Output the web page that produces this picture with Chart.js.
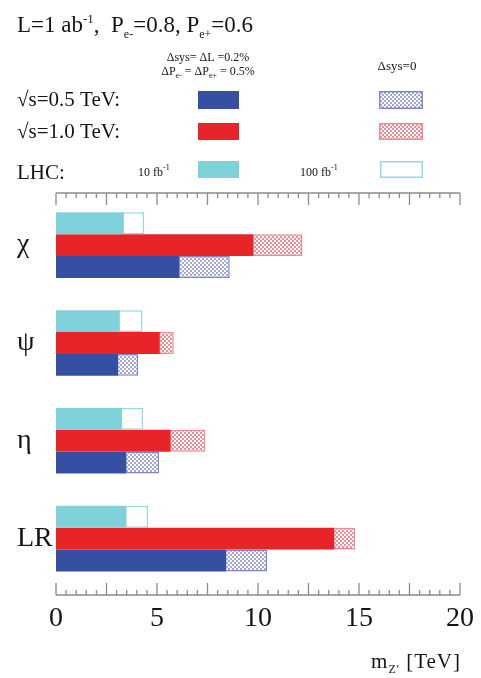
<!DOCTYPE html>
<html>
<head>
<meta charset="utf-8">
<script src="https://cdn.jsdelivr.net/npm/chart.js@4.4.1/dist/chart.umd.min.js"></script>
<style>
  html, body { margin: 0; padding: 0; background: #fff; }
  #wrap { width: 481px; height: 678px; position: relative; }
</style>
</head>
<body>
<div id="wrap"><canvas id="c"></canvas></div>
<script>
// Z' models and reach limits on the Z' mass (TeV)
const models = ['χ', 'ψ', 'η', 'LR'];
const lhc10 = [3.36, 3.16, 3.27, 3.49];        // LHC, 10 fb^-1
const lhc100 = [4.36, 4.28, 4.31, 4.56];       // LHC, 100 fb^-1
const ilc1000Sys = [9.78, 5.14, 5.68, 13.78];  // √s = 1.0 TeV, with systematics
const ilc1000NoSys = [12.2, 5.83, 7.39, 14.81];// √s = 1.0 TeV, Δsys = 0
const ilc500Sys = [6.12, 3.08, 3.49, 8.43];    // √s = 0.5 TeV, with systematics
const ilc500NoSys = [8.6, 4.07, 5.1, 10.45];   // √s = 0.5 TeV, Δsys = 0
const xTickValues = [0, 5, 10, 15, 20];

const SERIF = '"Liberation Serif", "Times New Roman", serif';
const INK = '#151515';
const BLUE = '#3550a2';
const RED = '#e82428';
const CYAN = '#7fd2da';
const CYAN_EDGE = '#92dbe2';
const BLUE_EDGE = '#8385cc';
const RED_EDGE = '#f08a90';

// fine checkered fill used for the "Δsys = 0" extensions
function makeChecker(color) {
  const tile = document.createElement('canvas');
  tile.width = 4; tile.height = 4;
  const g = tile.getContext('2d');
  g.fillStyle = '#fff'; g.fillRect(0, 0, 4, 4);
  g.fillStyle = color;
  g.fillRect(0, 0, 2, 2);
  g.fillRect(2, 2, 2, 2);
  return g.createPattern(tile, 'repeat');
}
const BLUE_HATCH = makeChecker('#a4a7dc');
const RED_HATCH = makeChecker('#f08d94');

const from0 = vals => vals.map((v, i) => ({ y: i, x: [0, v] }));
const between = (lo, hi) => lo.map((v, i) => ({ y: i, x: [v, hi[i]] }));

const datasets = [
  { stack: 'lhc', data: from0(lhc10), backgroundColor: CYAN, borderWidth: 0 },
  { stack: 'lhc', data: between(lhc10, lhc100), backgroundColor: '#fff',
    borderColor: CYAN_EDGE, borderWidth: 1.5, borderSkipped: 'start' },
  { stack: 'e1000', data: from0(ilc1000Sys), backgroundColor: RED, borderWidth: 0 },
  { stack: 'e1000', data: between(ilc1000Sys, ilc1000NoSys), backgroundColor: RED_HATCH,
    borderColor: RED_EDGE, borderWidth: 1.5, borderSkipped: 'start' },
  { stack: 'e500', data: from0(ilc500Sys), backgroundColor: BLUE, borderWidth: 0 },
  { stack: 'e500', data: between(ilc500Sys, ilc500NoSys), backgroundColor: BLUE_HATCH,
    borderColor: BLUE_EDGE, borderWidth: 1.5, borderSkipped: 'start' }
];

// text with sub/superscript pieces: [text, fontSize, baselineShift]
function drawRich(ctx, x, y, parts, align) {
  let w = 0;
  parts.forEach(p => { ctx.font = p[1] + 'px ' + SERIF; w += ctx.measureText(p[0]).width; });
  let cx = align === 'center' ? x - w / 2 : align === 'right' ? x - w : x;
  parts.forEach(p => {
    ctx.font = p[1] + 'px ' + SERIF;
    ctx.fillText(p[0], cx, y + (p[2] || 0));
    cx += ctx.measureText(p[0]).width;
  });
}

function legendBox(ctx, x, y, w, h, fill, edge) {
  ctx.fillStyle = fill;
  ctx.fillRect(x, y, w, h);
  if (edge) {
    ctx.strokeStyle = edge; ctx.lineWidth = 1.5;
    ctx.strokeRect(x + 0.75, y + 0.75, w - 1.5, h - 1.5);
  }
}

const annotations = {
  id: 'annotations',
  afterDraw(chart) {
    const { ctx } = chart;
    ctx.save();
    ctx.fillStyle = INK;
    ctx.textBaseline = 'alphabetic';
    ctx.textAlign = 'left';
    // heading
    drawRich(ctx, 17, 32, [['L=1 ab', 23], ['-1', 13, -9], [',  P', 23], ['e-', 12, 6],
      ['=0.8, P', 23], ['e+', 12, 6], ['=0.6', 23]], 'left');
    // legend column headers
    drawRich(ctx, 208, 61, [['Δsys= ΔL =0.2%', 12]], 'center');
    drawRich(ctx, 208, 75, [['ΔP', 12], ['e-', 8, 3], [' = ΔP', 12], ['e+', 8, 3], [' = 0.5%', 12]], 'center');
    drawRich(ctx, 397, 70, [['Δsys=0', 13]], 'center');
    // legend rows
    drawRich(ctx, 17, 106, [['√s=0.5 TeV:', 21]], 'left');
    drawRich(ctx, 17, 138, [['√s=1.0 TeV:', 21]], 'left');
    drawRich(ctx, 17, 179, [['LHC:', 21]], 'left');
    drawRich(ctx, 138, 176, [['10 fb', 12], ['-1', 8, -6]], 'left');
    drawRich(ctx, 300, 176, [['100 fb', 12], ['-1', 8, -6]], 'left');
    legendBox(ctx, 198, 91, 41, 18, BLUE);
    legendBox(ctx, 379, 91, 44, 18, BLUE_HATCH, BLUE_EDGE);
    legendBox(ctx, 198, 123, 41, 17, RED);
    legendBox(ctx, 379, 123, 44, 17, RED_HATCH, RED_EDGE);
    legendBox(ctx, 198, 161, 41, 17, CYAN);
    legendBox(ctx, 380, 161, 43, 17, '#fff', CYAN_EDGE);
    // axis title
    ctx.fillStyle = INK;
    ctx.letterSpacing = '1px';
    drawRich(ctx, 461, 668, [['m', 21], ['Z\'', 12, 5], [' [TeV]', 21]], 'right');
    ctx.restore();
  }
};

// ruler lines with ticks along the top and bottom of the plot
const frame = {
  id: 'frame',
  afterDraw(chart) {
    const { ctx, chartArea: a, scales: { x } } = chart;
    ctx.save();
    ctx.strokeStyle = '#8c8c8c';
    ctx.lineWidth = 1.3;
    const x0 = x.getPixelForValue(x.min), x1 = x.getPixelForValue(x.max);
    [[a.top, 1], [a.bottom, -1]].forEach(([y, dir]) => {
      ctx.beginPath();
      ctx.moveTo(x0, y); ctx.lineTo(x1, y);
      for (let k = 0; k <= 40; k++) {
        const px = x.getPixelForValue(k * 0.5);
        const len = k % 5 === 0 ? 12 : 5;
        ctx.moveTo(px, y); ctx.lineTo(px, y + dir * len);
      }
      ctx.stroke();
    });
    ctx.restore();
  }
};

new Chart(document.getElementById('c'), {
  type: 'bar',
  data: { datasets },
  options: {
    indexAxis: 'y',
    responsive: true,
    maintainAspectRatio: false,
    animation: false,
    layout: { padding: { left: 17, right: 19.5, top: 193, bottom: 0 } },
    datasets: { bar: { categoryPercentage: 0.671, barPercentage: 1.0 } },
    plugins: { legend: { display: false }, tooltip: { enabled: false }, title: { display: false } },
    scales: {
      x: {
        type: 'linear', min: 0, max: 20, stacked: false,
        grid: { display: false, drawTicks: false },
        border: { display: false },
        afterBuildTicks: s => { s.ticks = xTickValues.map(v => ({ value: v })); },
        afterFit: s => { s.height = 83; },
        ticks: { color: INK, padding: 7, font: { family: SERIF, size: 28 }, maxRotation: 0 }
      },
      y: {
        type: 'linear', min: -0.533, max: 3.577, reverse: true, stacked: true, offset: false,
        grid: { display: false, drawTicks: false },
        border: { display: false },
        afterBuildTicks: s => { s.ticks = models.map((m, i) => ({ value: i })); },
        afterFit: s => { s.width = 39; },
        ticks: {
          color: INK, padding: 0, crossAlign: 'far',
          font: { family: SERIF, size: 28 },
          callback: v => models[v] ?? ''
        }
      }
    }
  },
  plugins: [frame, annotations]
});
</script>
</body>
</html>
